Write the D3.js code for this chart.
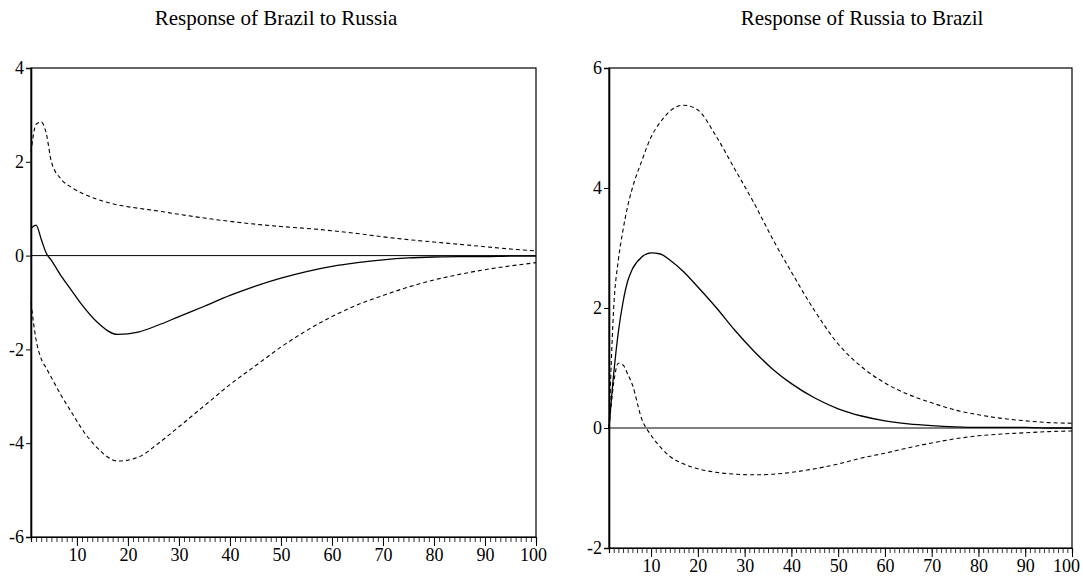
<!DOCTYPE html>
<html><head><meta charset="utf-8">
<script src="https://cdn.jsdelivr.net/npm/d3@7"></script>
<style>body{margin:0;background:#fff}svg{display:block}</style>
</head><body>
<svg id="c" width="1083" height="586"></svg>
<script>
// Left panel: Response of Brazil to Russia
const leftTitle = "Response of Brazil to Russia";
const leftPeriods = [1,2,3,4,5,7,9,11,14,18,22,26,30,35,40,45,50,55,60,65,70,75,80,85,90,95,100];
const leftResponse = [0.58,0.65,0.35,0.05,-0.1,-0.45,-0.75,-1.05,-1.42,-1.68,-1.63,-1.48,-1.3,-1.08,-0.85,-0.65,-0.48,-0.34,-0.23,-0.15,-0.09,-0.05,-0.03,-0.02,-0.02,-0.01,-0.01];
const leftUpper = [2.2,2.8,2.85,2.6,2.0,1.62,1.45,1.33,1.2,1.08,1.01,0.95,0.88,0.8,0.73,0.67,0.62,0.58,0.53,0.47,0.4,0.34,0.29,0.24,0.19,0.14,0.1];
const leftLower = [-1.0,-1.8,-2.2,-2.4,-2.6,-3.0,-3.35,-3.7,-4.1,-4.38,-4.3,-4.0,-3.65,-3.2,-2.75,-2.35,-1.95,-1.6,-1.3,-1.05,-0.85,-0.67,-0.52,-0.4,-0.3,-0.22,-0.15];
const leftYTicks = [4,2,0,-2,-4,-6];

// Right panel: Response of Russia to Brazil
const rightTitle = "Response of Russia to Brazil";
const rightPeriods = [1,2,3,4,5,6,8,10,12,14,17,20,24,28,32,36,40,45,50,55,60,65,70,75,80,85,90,95,100];
const rightResponse = [0,0.9,1.6,2.1,2.45,2.65,2.85,2.92,2.9,2.8,2.6,2.35,2.0,1.62,1.28,0.98,0.74,0.5,0.32,0.2,0.12,0.07,0.04,0.02,0.01,0.01,0.01,0.0,0.0];
const rightUpper = [0,2.0,2.8,3.3,3.7,4.0,4.45,4.85,5.1,5.28,5.38,5.3,4.85,4.3,3.75,3.15,2.6,1.95,1.4,1.02,0.75,0.56,0.42,0.3,0.22,0.16,0.12,0.09,0.08];
const rightLower = [0,0.75,1.08,1.05,0.9,0.72,0.15,-0.12,-0.32,-0.47,-0.6,-0.68,-0.74,-0.77,-0.78,-0.77,-0.74,-0.68,-0.6,-0.5,-0.42,-0.33,-0.25,-0.18,-0.13,-0.1,-0.08,-0.06,-0.05];
const rightYTicks = [6,4,2,0,-2];

const xTickLabels = [10,20,30,40,50,60,70,80,90,100];

const svg = d3.select("#c");
const FONT = "'Liberation Serif','Times New Roman',serif";

function panel(cfg){
  const x = d3.scaleLinear().domain([1,100]).range([cfg.x0, cfg.x1]);
  const y = d3.scaleLinear().domain(cfg.yDomain).range([cfg.yBottom, cfg.yTop]);
  const g = svg.append("g");

  g.append("text").attr("x",cfg.titleX).attr("y",cfg.titleY)
    .attr("text-anchor","middle").attr("font-family",FONT).attr("font-size",21)
    .attr("fill","#000").text(cfg.title);

  // frame
  g.append("rect").attr("x",cfg.x0).attr("y",cfg.yTop)
    .attr("width",cfg.x1-cfg.x0).attr("height",cfg.yBottom-cfg.yTop)
    .attr("fill","none").attr("stroke","#000").attr("stroke-width",1.2);

  // y axis
  const ya = d3.axisLeft(y).tickValues(cfg.yTicks).tickSize(5).tickPadding(2).tickFormat(d3.format("d"));
  const yg = g.append("g").attr("transform",`translate(${cfg.x0},0)`).call(ya);
  yg.select(".domain").attr("stroke","#000").attr("stroke-width",1.6);
  yg.selectAll("text").attr("font-family",FONT).attr("font-size",18).attr("fill","#000")
    .text(d => d < 0 ? "-" + Math.abs(d) : d);

  // x axis minor ticks
  const minor = d3.axisBottom(x).tickValues(d3.range(1,101)).tickSize(5).tickFormat("");
  const mg = g.append("g").attr("transform",`translate(0,${cfg.yBottom})`).call(minor);
  mg.select(".domain").attr("stroke","#000").attr("stroke-width",1.2);
  mg.selectAll("line").attr("stroke-width",0.8);
  const major = d3.axisBottom(x).tickValues(xTickLabels).tickSize(9).tickPadding(2);
  const xg = g.append("g").attr("transform",`translate(0,${cfg.yBottom})`).call(major);
  xg.select(".domain").remove();
  xg.selectAll("line").attr("stroke-width",1);
  xg.selectAll("text").attr("font-family",FONT).attr("font-size",18).attr("fill","#000")
    .attr("dx", d => d === 100 ? cfg.lastDx : 0);

  // zero line
  g.append("line").attr("x1",cfg.x0).attr("x2",cfg.x1)
    .attr("y1",y(0)).attr("y2",y(0)).attr("stroke","#000").attr("stroke-width",1);

  const line = d3.line().x(d=>x(d[0])).y(d=>y(d[1])).curve(d3.curveMonotoneX);
  const pair = vals => cfg.periods.map((p,i)=>[p,vals[i]]);
  g.append("path").datum(pair(cfg.upper)).attr("d",line).attr("fill","none")
    .attr("stroke","#000").attr("stroke-width",1.1).attr("stroke-dasharray","4,3");
  g.append("path").datum(pair(cfg.lower)).attr("d",line).attr("fill","none")
    .attr("stroke","#000").attr("stroke-width",1.1).attr("stroke-dasharray","4,3");
  g.append("path").datum(pair(cfg.resp)).attr("d",line).attr("fill","none")
    .attr("stroke","#000").attr("stroke-width",1.3);
}

panel({title:leftTitle,x0:31,x1:536,yTop:68,yBottom:537,yDomain:[-6,4],titleX:276,titleY:25,lastDx:-3,
  yTicks:leftYTicks,periods:leftPeriods,resp:leftResponse,upper:leftUpper,lower:leftLower});
panel({title:rightTitle,x0:609,x1:1072,yTop:68,yBottom:548,yDomain:[-2,6],titleX:862,titleY:25,lastDx:-6,
  yTicks:rightYTicks,periods:rightPeriods,resp:rightResponse,upper:rightUpper,lower:rightLower});
</script>
</body></html>
